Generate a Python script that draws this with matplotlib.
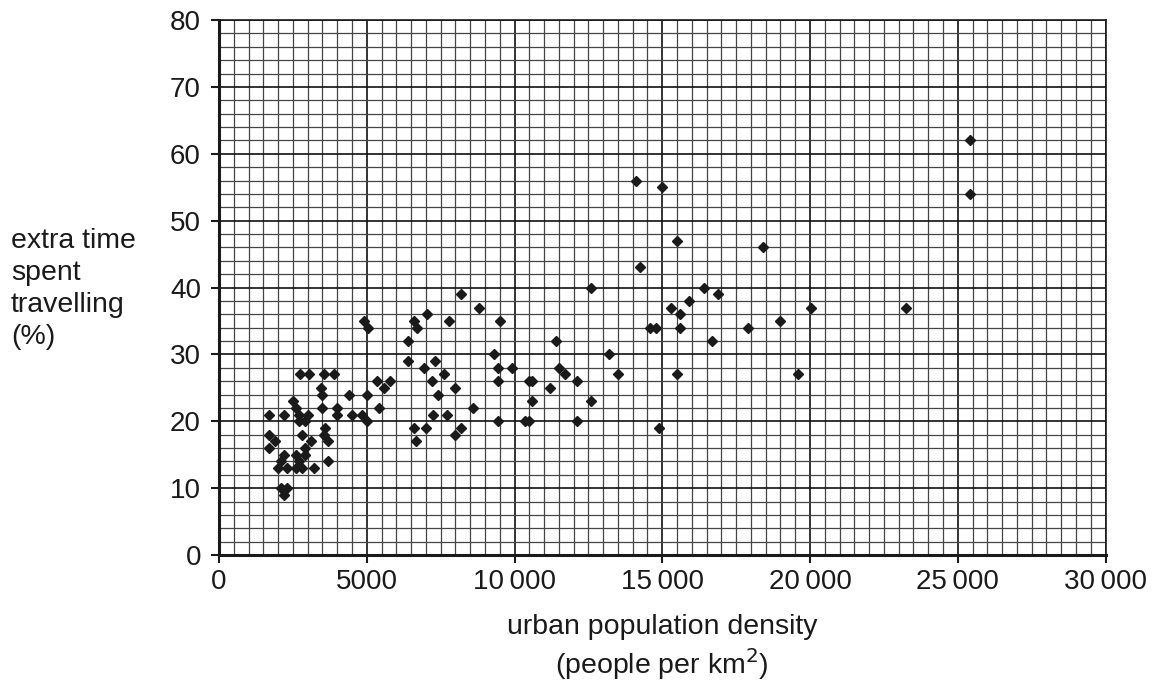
import matplotlib
matplotlib.use("Agg")
import matplotlib.pyplot as plt
from matplotlib.ticker import MultipleLocator, FixedLocator

plt.rcParams['font.family'] = ['Liberation Sans', 'DejaVu Sans']

density = [
    1700, 1700, 1900, 1700, 2200, 2000, 2100, 2200, 2300, 2100, 2300, 2200,
    2500, 2600, 2700, 2700, 2900, 3000, 2800, 3100, 2900, 2600, 2900, 2700,
    2600, 2800, 3200, 3700, 2750, 3050, 3550, 3900, 3450, 3500, 3500, 4000,
    4000, 3600, 3550, 3700, 4400, 5000, 4500, 4850, 5000, 5400, 5350, 5600,
    5800, 4900, 5050,
    6400, 6400, 6600, 6700, 7050, 6950, 7300, 7600, 7200, 7400, 7250, 7700,
    6600, 7000, 6650, 7800, 8200, 8800, 9500, 8000, 8600, 8200, 8000, 9300,
    9450, 9900, 9450, 9450, 10500, 10600, 10600, 10350, 10500, 11200, 11400,
    11500, 11700, 12100, 12100, 12600, 12600, 13200, 13500,
    14100, 15000, 15500, 18400, 14250, 16400, 16900, 15900, 15300, 15600,
    15600, 14600, 14800, 17900, 19000, 20050, 23250, 16700, 15500, 19600,
    14900, 25400, 25400,
]
extra_time = [
    21, 18, 17, 16, 21, 13, 14, 15, 13, 10, 10, 9,
    23, 22, 21, 20, 20, 21, 18, 17, 16, 15, 15, 14,
    13, 13, 13, 14, 27, 27, 27, 27, 25, 24, 22, 22,
    21, 19, 18, 17, 24, 24, 21, 21, 20, 22, 26, 25,
    26, 35, 34,
    32, 29, 35, 34, 36, 28, 29, 27, 26, 24, 21, 21,
    19, 19, 17, 35, 39, 37, 35, 25, 22, 19, 18, 30,
    28, 28, 26, 20, 26, 26, 23, 20, 20, 25, 32,
    28, 27, 26, 20, 40, 23, 30, 27,
    56, 55, 47, 46, 43, 40, 39, 38, 37, 36,
    34, 34, 34, 34, 35, 37, 37, 32, 27, 27,
    19, 62, 54,
]

x_ticks = [0, 5000, 10000, 15000, 20000, 25000, 30000]
x_tick_labels = ['0', '5000', '10\u2009000', '15\u2009000', '20\u2009000', '25\u2009000', '30\u2009000']
y_ticks = [0, 10, 20, 30, 40, 50, 60, 70, 80]

fig = plt.figure(figsize=(11.57, 6.82), dpi=100)
ax = fig.add_axes([219/1157, 1-555/682, (1105.5-219)/1157, (555-20)/682])

ax.set_xlim(0, 30000)
ax.set_ylim(0, 80)

ax.xaxis.set_major_locator(FixedLocator(x_ticks))
ax.set_xticklabels(x_tick_labels)
ax.yaxis.set_major_locator(FixedLocator(y_ticks))
ax.xaxis.set_minor_locator(MultipleLocator(500))
ax.yaxis.set_minor_locator(MultipleLocator(2))

ax.grid(which='minor', color='#454545', linewidth=0.9, zorder=1)
ax.grid(which='major', color='#111111', linewidth=1.2, zorder=1)
ax.set_axisbelow(True)

ax.tick_params(which='major', direction='out', length=6, width=1.5, labelsize=20,
               colors='#1a1a1a', pad=4)
ax.tick_params(which='minor', length=0)
ax.tick_params(axis='y', pad=7)

for s in ax.spines.values():
    s.set_linewidth(1.2)
    s.set_color('#1a1a1a')
ax.spines['left'].set_linewidth(2.2)
ax.spines['bottom'].set_linewidth(2.2)

ax.plot(density, extra_time, linestyle='none', marker='D', markersize=5.5,
        color='#1a1a1a', zorder=3, clip_on=False)

fig.text(11/1157, 1-289/682, 'extra time\nspent\ntravelling\n(%)', ha='left', va='center',
         fontsize=20.5, color='#1a1a1a', linespacing=1.3)
fig.text(662/1157, 1-627/682, 'urban population density', ha='center', va='center',
         fontsize=20.5, color='#1a1a1a')
fig.text(662/1157, 1-664/682, '(people per km$^2$)', ha='center', va='center',
         fontsize=20.5, color='#1a1a1a')

fig.savefig('out.png', dpi=100, facecolor='white')
